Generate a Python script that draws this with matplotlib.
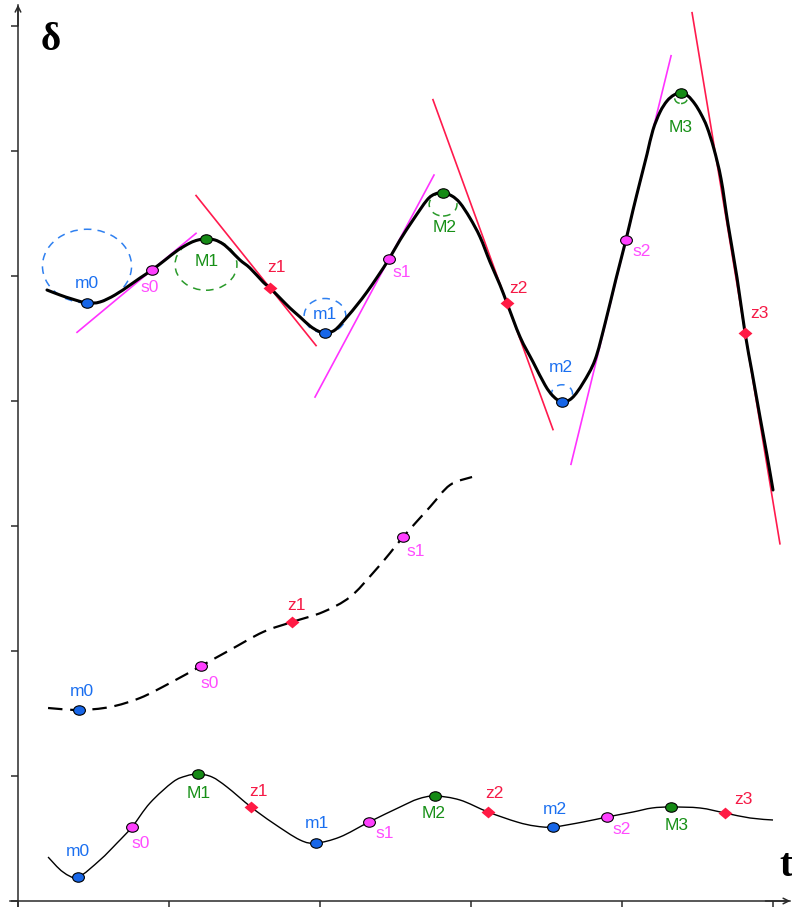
import matplotlib
matplotlib.use('Agg')
import matplotlib.pyplot as plt
from matplotlib.patches import Circle, PathPatch
from matplotlib.path import Path
from matplotlib.transforms import Affine2D

plt.rcParams['font.family'] = ['Liberation Sans', 'DejaVu Sans']

# ---- upper trace (growing swing), thick line ----
top_t = [0.192, 0.278, 0.358, 0.457, 0.543, 0.642, 0.742, 0.808, 0.887, 0.974,
         1.060, 1.139, 1.192, 1.245, 1.305, 1.358, 1.404, 1.470, 1.536, 1.623,
         1.669, 1.735, 1.801, 1.868, 1.934, 1.987, 2.033, 2.099, 2.179, 2.245,
         2.311, 2.384, 2.457, 2.530, 2.616, 2.709, 2.762, 2.815, 2.874, 2.927,
         2.993, 3.060, 3.126, 3.192, 3.238, 3.325, 3.411, 3.490, 3.543, 3.603,
         3.669, 3.742, 3.821, 3.887, 3.960, 4.026, 4.073, 4.119, 4.166, 4.205,
         4.252, 4.298, 4.344, 4.391, 4.437, 4.483, 4.523, 4.563, 4.609, 4.656,
         4.702, 4.762, 4.815, 4.861, 4.914, 4.960, 5.000]
top_d = [4.888, 4.848, 4.816, 4.784, 4.792, 4.848, 4.928, 4.984, 5.048, 5.128,
         5.208, 5.264, 5.288, 5.296, 5.288, 5.256, 5.208, 5.128, 5.064, 4.952,
         4.904, 4.824, 4.744, 4.672, 4.600, 4.560, 4.544, 4.568, 4.672, 4.768,
         4.872, 5.000, 5.136, 5.288, 5.448, 5.608, 5.656, 5.664, 5.640, 5.584,
         5.464, 5.312, 5.112, 4.928, 4.784, 4.512, 4.312, 4.128, 4.040, 3.992,
         4.024, 4.144, 4.328, 4.616, 4.976, 5.288, 5.528, 5.752, 5.976, 6.168,
         6.312, 6.400, 6.448, 6.464, 6.440, 6.376, 6.296, 6.192, 6.016, 5.776,
         5.416, 4.984, 4.544, 4.232, 3.872, 3.568, 3.288]
top_pts = [('m0', 0.457, 4.784), ('s0', 0.887, 5.048), ('M1', 1.245, 5.296),
           ('z1', 1.669, 4.904), ('m1', 2.033, 4.544), ('s1', 2.457, 5.136),
           ('M2', 2.815, 5.664), ('z2', 3.238, 4.784), ('m2', 3.603, 3.992),
           ('s2', 4.026, 5.288), ('M3', 4.391, 6.464), ('z3', 4.815, 4.544)]
# tangent lines: point, slope, t from, t to
top_tangents = [('s0', 1.005, 0.391, 1.179), ('z1', -1.51, 1.179, 1.974),
                ('s1', 2.254, 1.967, 2.755), ('z2', -3.32, 2.748, 3.543),
                ('s2', 4.93, 3.662, 4.325), ('z3', -7.3, 4.464, 5.046)]
# curvature circles at the extremes: point, radius
top_circles = [('m0', 0.295), ('M1', 0.205), ('m1', 0.138),
               ('M2', 0.092), ('m2', 0.069), ('M3', 0.042)]

# ---- middle trace (monotonic run), dashed ----
mid_t = [0.199, 0.404, 0.609, 0.808, 1.007, 1.212, 1.404, 1.623, 1.815,
         2.020, 2.199, 2.351, 2.464, 2.550, 2.728, 2.861, 3.007]
mid_d = [1.544, 1.528, 1.552, 1.624, 1.744, 1.880, 2.008, 2.152, 2.232,
         2.312, 2.432, 2.624, 2.784, 2.912, 3.152, 3.328, 3.392]
mid_pts = [('m0', 0.404, 1.528), ('s0', 1.212, 1.880),
           ('z1', 1.815, 2.232), ('s1', 2.550, 2.912)]

# ---- lower trace (damped swing), thin line ----
low_t = [0.199, 0.298, 0.397, 0.543, 0.656, 0.755, 0.874, 1.026, 1.113, 1.192,
         1.285, 1.384, 1.543, 1.689, 1.868, 1.974, 2.132, 2.325, 2.530, 2.649,
         2.762, 2.927, 3.113, 3.305, 3.424, 3.543, 3.742, 3.901, 4.073, 4.199,
         4.325, 4.517, 4.682, 4.848, 5.000]
low_d = [0.352, 0.232, 0.192, 0.328, 0.464, 0.592, 0.784, 0.952, 1.000, 1.016,
         0.992, 0.912, 0.752, 0.624, 0.488, 0.464, 0.512, 0.632, 0.752, 0.816,
         0.840, 0.808, 0.712, 0.632, 0.600, 0.592, 0.632, 0.672, 0.712, 0.744,
         0.752, 0.744, 0.704, 0.664, 0.648]
low_pts = [('m0', 0.397, 0.192), ('s0', 0.755, 0.592), ('M1', 1.192, 1.016),
           ('z1', 1.543, 0.752), ('m1', 1.974, 0.464), ('s1', 2.325, 0.632),
           ('M2', 2.762, 0.840), ('z2', 3.113, 0.712), ('m2', 3.543, 0.592),
           ('s2', 3.901, 0.672), ('M3', 4.325, 0.752), ('z3', 4.682, 0.704)]

# label offsets in pixels (x right, y up)
top_offs = {'m0': (0, 20), 's0': (-2, -17), 'M1': (1, -22), 'z1': (6, 21),
            'm1': (0, 19), 's1': (13, -13), 'M2': (2, -34), 'z2': (11, 15),
            'm2': (-1, 34), 's2': (16, -11), 'M3': (0, -34), 'z3': (14, 20)}
mid_offs = {'m0': (3, 18), 's0': (9, -17), 'z1': (4, 16), 's1': (13, -15)}
low_offs = {'m0': (0, 25), 's0': (9, -17), 'M1': (1, -20), 'z1': (8, 16),
            'm1': (1, 19), 's1': (16, -12), 'M2': (-1, -18), 'z2': (6, 18),
            'm2': (2, 18), 's2': (15, -12), 'M3': (6, -19), 'z3': (18, 14)}

fill = {'m': '#1766e8', 'M': '#158a15', 's': '#ff40ff', 'z': '#ff1a44'}
text_col = {'m': '#1a6ff0', 'M': '#179017', 's': '#ff4cff', 'z': '#f51a46'}

oval = Path.unit_circle().transformed(Affine2D().scale(1, 0.8))
diamond = Path([(-1, 0), (0, 0.85), (1, 0), (0, -0.85), (-1, 0)],
               [Path.MOVETO, Path.LINETO, Path.LINETO, Path.LINETO, Path.CLOSEPOLY])


def smooth_path(ts, ds):
    # cubic Bezier pieces through the listed points (Catmull-Rom handles)
    pts = list(zip(ts, ds))
    verts = [pts[0]]
    codes = [Path.MOVETO]
    n = len(pts)
    for i in range(n - 1):
        p0 = pts[max(i - 1, 0)]
        p1 = pts[i]
        p2 = pts[i + 1]
        p3 = pts[min(i + 2, n - 1)]
        c1 = (p1[0] + (p2[0] - p0[0]) / 6, p1[1] + (p2[1] - p0[1]) / 6)
        c2 = (p2[0] - (p3[0] - p1[0]) / 6, p2[1] - (p3[1] - p1[1]) / 6)
        verts += [c1, c2, p2]
        codes += [Path.CURVE4] * 3
    return Path(verts, codes)


fig = plt.figure(figsize=(7.92, 9.07), dpi=100)
ax = fig.add_axes([0, 0, 1, 1])
ax.set_xlim(-18 / 151, 774 / 151)
ax.set_ylim(-6 / 125, 901 / 125)

# axes through the origin
for side in ['top', 'right']:
    ax.spines[side].set_visible(False)
ax.spines['left'].set_position(('data', 0))
ax.spines['bottom'].set_position(('data', 0))
ax.spines['left'].set_bounds(-0.05, 7.17)
ax.spines['bottom'].set_bounds(-0.05, 5.11)
for side in ['left', 'bottom']:
    ax.spines[side].set_linewidth(1.1)
    ax.spines[side].set_color('#2a2a2a')
ax.set_xticks(range(0, 6))
ax.set_yticks(range(0, 8))
ax.tick_params(axis='y', direction='out', length=5, width=1.1, color='#2a2a2a',
               labelleft=False)
ax.tick_params(axis='x', direction='out', length=4, width=1.1, color='#2a2a2a',
               labelbottom=False)
ax.annotate('', xy=(0, 7.17), xytext=(0, 7.0),
            arrowprops=dict(arrowstyle='->', lw=1.1, color='#2a2a2a',
                            shrinkA=0, shrinkB=0))
ax.annotate('', xy=(5.115, 0), xytext=(4.95, 0),
            arrowprops=dict(arrowstyle='->', lw=1.1, color='#2a2a2a',
                            shrinkA=0, shrinkB=0))
fig.text(51 / 792, 1 - 41 / 907, 'δ', fontsize=28, fontweight='bold',
         family=['Liberation Serif', 'DejaVu Serif'], ha='center', va='center')
fig.text(786 / 792, 1 - 866 / 907, 't', fontsize=28, fontweight='bold',
         family=['Liberation Serif', 'DejaVu Serif'], ha='center', va='center')

# tangents and curvature circles on the upper trace
pt_top = {n: (t, d) for n, t, d in top_pts}
for name, slope, ta, tb in top_tangents:
    t0, d0 = pt_top[name]
    col = '#ff33ff' if name[0] == 's' else '#ff1a4d'
    ax.plot([ta, tb], [d0 + slope * (ta - t0), d0 + slope * (tb - t0)],
            color=col, lw=1.2, zorder=2)
for name, r in top_circles:
    t0, d0 = pt_top[name]
    cy = d0 + r if name[0] == 'm' else d0 - r
    col = '#2f80f0' if name[0] == 'm' else '#2a9a2a'
    ax.add_patch(Circle((t0, cy), r, fill=False, ec=col, lw=1.1,
                        ls=(0, (5, 4)), zorder=2))

ax.add_patch(PathPatch(smooth_path(top_t, top_d), fill=False, ec='black',
                       lw=2.2, zorder=3, capstyle='round'))
ax.add_patch(PathPatch(smooth_path(mid_t, mid_d), fill=False, ec='black',
                       lw=1.6, ls=(0, (6.5, 3.5)), zorder=3))
ax.add_patch(PathPatch(smooth_path(low_t, low_d), fill=False, ec='black',
                       lw=1.0, zorder=3))


def mark(points, offs):
    for name, t, d in points:
        k = name[0]
        if k == 'z':
            ax.plot(t, d, marker=diamond, ms=10, color=fill[k], mew=0, zorder=5)
        else:
            ax.plot(t, d, marker=oval, ms=8.5, mfc=fill[k], mec='black',
                    mew=0.8, zorder=5)
        dx, dy = offs[name]
        ax.annotate(name, (t, d), xytext=(dx, dy), textcoords='offset pixels',
                    ha='center', va='center', fontsize=12.5, color=text_col[k],
                    zorder=6)


mark(top_pts, top_offs)
mark(mid_pts, mid_offs)
mark(low_pts, low_offs)

fig.savefig('out.png', dpi=100)
